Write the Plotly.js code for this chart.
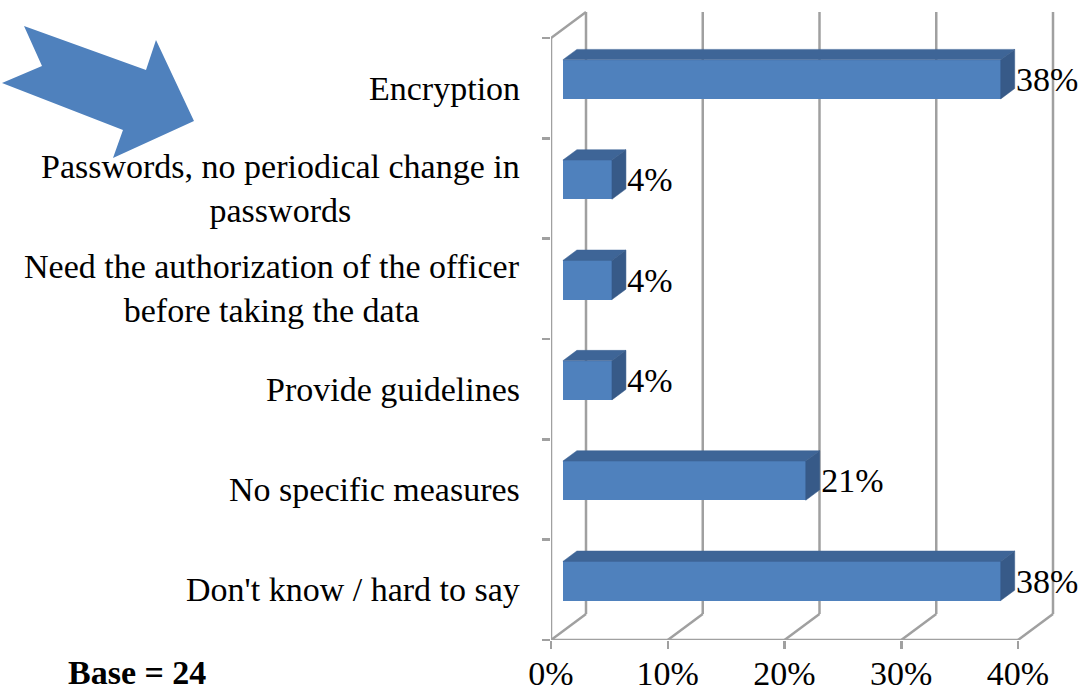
<!DOCTYPE html>
<html>
<head>
<meta charset="utf-8">
<script src="https://cdn.plot.ly/plotly-3.0.1.min.js"></script>
<style>html,body{margin:0;padding:0;background:#fff;}#chart{width:1091px;height:693px;}</style>
</head>
<body>
<div id="chart"></div>
<script>
// ---- data (top to bottom as in the picture) ----
const categories = [
  'Encryption',
  'Passwords, no periodical change in<br>passwords',
  'Need the authorization of the officer<br>before taking the data',
  'Provide guidelines',
  'No specific measures',
  "Don't know / hard to say"
];
const values = [37.5, 4.2, 4.2, 4.2, 20.8, 37.5];
const valueLabels = ['38%', '4%', '4%', '4%', '21%', '38%'];
const tickVals = [0, 10, 20, 30, 40];
const tickText = ['0%', '10%', '20%', '30%', '40%'];
const baseN = 24;

// ---- geometry / style ----
const W = 1091, H = 693;
const M = {l: 551, r: 11, t: 5, b: 53};
const PW = W - M.l - M.r, PH = H - M.t - M.b;
const PPX = 11.675, PPY = 100.33;          // px per % and per category
const DX = 35 / PPX, DY = 26 / PPY;       // 3-D depth in data units
const F0 = 0.34, F1 = 0.74, BH = 0.39;    // bar depth slot and height
const n = categories.length;
const pos = categories.map((c, k) => n - 1 - k);
const FONT = 'Liberation Serif';
const FS = 34;
const GRID = '#a0a0a0', GW = 2.5;
const FRONT = '#4f81bd', TOP = '#3e6597', SIDE = '#375a88';

const shapes = [];
function seg(x0, y0, x1, y1) {
  shapes.push({type: 'line', xref: 'x', yref: 'y', x0, y0, x1, y1, layer: 'below',
    line: {color: GRID, width: GW}});
}
const yLo = -0.5, yHi = n - 0.5;
tickVals.forEach(t => {
  seg(t + DX, yLo + DY, t + DX, yHi + DY);   // back wall gridline
  seg(t, yLo, t + DX, yLo + DY);             // floor diagonal
});
seg(tickVals[0], yLo, tickVals[tickVals.length - 1], yLo); // front floor edge
seg(0, yLo, 0, yHi);                          // left axis
seg(0, yHi, DX, yHi + DY);                    // top of side wall

// decorative arrow (pixel outline converted to paper coords)
const arrowPx = [[24,26],[42,66],[2,83],[123,130],[113,158],[194,121],[156,40],[146,70]];
const toPaper = p => [(p[0] - M.l) / PW, (H - M.b - p[1]) / PH];
const arrowPath = arrowPx.map((p, i) => {
  const q = toPaper(p); return (i ? 'L' : 'M') + q[0].toFixed(4) + ',' + q[1].toFixed(4);
}).join(' ') + ' Z';
shapes.push({type: 'path', xref: 'paper', yref: 'paper', path: arrowPath,
  fillcolor: '#4f81bd', line: {width: 0}, layer: 'above'});

const traces = [];
// front faces
traces.push({
  type: 'bar', orientation: 'h',
  y: pos.map(p => p + F0 * DY), x: values, base: values.map(() => F0 * DX),
  width: BH, marker: {color: FRONT, line: {width: 0}}, hoverinfo: 'skip'
});
// top and side faces
const bd = F1 - F0;
values.forEach((v, k) => {
  const b = F0 * DX, yc = pos[k] + F0 * DY;
  const yt = yc + BH / 2, yb = yc - BH / 2;
  const ox = bd * DX, oy = bd * DY;
  traces.push({type: 'scatter', mode: 'lines', fill: 'toself', fillcolor: TOP,
    line: {width: 0.5, color: TOP}, hoverinfo: 'skip',
    x: [b, b + v, b + v + ox, b + ox, b], y: [yt, yt, yt + oy, yt + oy, yt]});
  traces.push({type: 'scatter', mode: 'lines', fill: 'toself', fillcolor: SIDE,
    line: {width: 0.5, color: SIDE}, hoverinfo: 'skip',
    x: [b + v, b + v, b + v + ox, b + v + ox, b + v], y: [yb, yt, yt + oy, yb + oy, yb]});
});
// value labels
traces.push({
  type: 'scatter', mode: 'text', cliponaxis: false, hoverinfo: 'skip',
  x: values.map(v => v + F1 * DX + 0.12), y: pos.map(p => p + F0 * DY - 0.03),
  text: valueLabels, textposition: 'middle right',
  textfont: {family: FONT, size: FS, color: '#000'}
});

const annotations = categories.map((c, k) => ({
  xref: 'paper', yref: 'y', x: (522 - M.l) / PW, y: pos[k],
  xanchor: 'right', yanchor: 'middle', align: 'center', showarrow: false,
  text: c, font: {family: FONT, size: FS, color: '#000'}
}));
annotations.push({
  xref: 'paper', yref: 'paper', x: (66 - M.l) / PW, y: (H - M.b - 672) / PH,
  xanchor: 'left', yanchor: 'middle', showarrow: false,
  text: '<b>Base = ' + baseN + '</b>', font: {family: FONT, size: FS, color: '#000'}
});

const edges = [];
for (let k = 0; k <= n; k++) edges.push(k - 0.5);

const layout = {
  width: W, height: H, margin: M, showlegend: false,
  paper_bgcolor: '#fff', plot_bgcolor: 'rgba(0,0,0,0)',
  font: {family: FONT},
  xaxis: {range: [0, PW / PPX], tickmode: 'array', tickvals: tickVals, ticktext: tickText,
    ticks: 'outside', ticklen: 8, tickwidth: GW, tickcolor: GRID, ticklabelstandoff: -5,
    showgrid: false, zeroline: false, showline: false, fixedrange: true,
    tickfont: {family: FONT, size: FS, color: '#000'}},
  yaxis: {range: [-0.5, -0.5 + PH / PPY], tickmode: 'array', tickvals: edges,
    showticklabels: false, ticks: 'outside', ticklen: 8, tickwidth: GW, tickcolor: GRID,
    showgrid: false, zeroline: false, showline: false, fixedrange: true},
  bargap: 0, shapes: shapes, annotations: annotations
};
Plotly.newPlot('chart', traces, layout, {displayModeBar: false, staticPlot: true});
</script>
</body>
</html>
